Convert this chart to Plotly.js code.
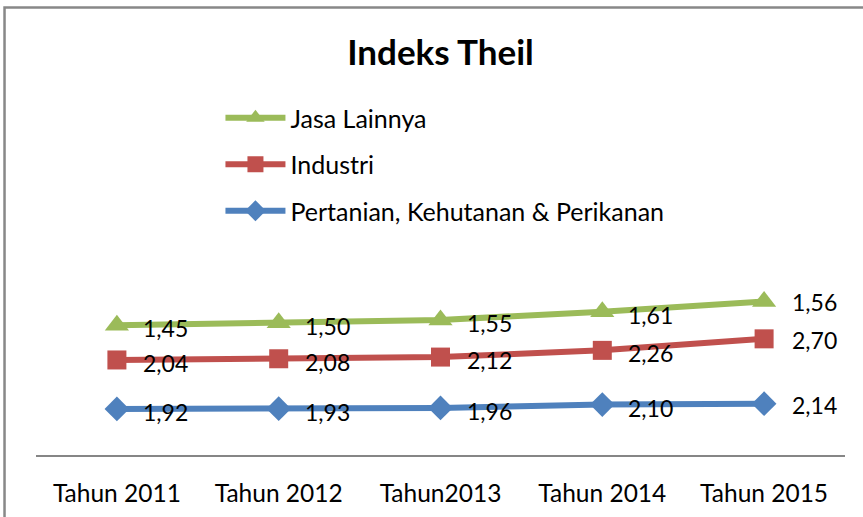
<!DOCTYPE html>
<html>
<head>
<meta charset="utf-8">
<script src="https://cdn.plot.ly/plotly-3.0.1.min.js"></script>
<style>html,body{margin:0;padding:0;background:#fff;}#chart{width:863px;height:517px;}</style>
</head>
<body>
<div id="chart"></div>
<script>
const categories = ["Tahun 2011", "Tahun 2012", "Tahun2013", "Tahun 2014", "Tahun 2015"];
const pertanian = [1.92, 1.93, 1.96, 2.10, 2.14];
const industri = [2.04, 2.08, 2.12, 2.26, 2.70];
const jasa = [1.45, 1.50, 1.55, 1.61, 1.56];
const seriesNames = ["Pertanian, Kehutanan & Perikanan", "Industri", "Jasa Lainnya"];

const FONT = "Lato, 'Noto Sans', sans-serif";
const series = [pertanian, industri, jasa];
const colors = ["#4F81BD", "#C0504D", "#9BBB59"];
const symbols = ["diamond", "square", "triangle-up"];
const sizes = [19, 19, 21];

const fmt = v => v.toFixed(2).replace(".", ",");

const traces = series.map((s, i) => ({
  x: categories,
  y: s,
  name: seriesNames[i],
  type: "scatter",
  mode: "lines+markers",
  stackgroup: "one",
  fill: "none",
  legendgroup: "g" + i,
  legendrank: 3 - i,
  line: {color: colors[i], width: 6},
  marker: {color: colors[i], symbol: symbols[i], size: sizes[i]},
  hoverinfo: "skip"
}));

// cumulative positions for labels (stacked line)
const annotations = [];
const cum = categories.map(() => 0);
series.forEach((s, i) => {
  s.forEach((v, j) => {
    cum[j] += v;
    annotations.push({
      x: categories[j], y: cum[j], xref: "x", yref: "y",
      text: fmt(v), showarrow: false,
      xanchor: "left", yanchor: "middle",
      xshift: j === 4 ? 26 : 24, yshift: j === 4 ? -1 : -3,
      font: {family: FONT, size: 23, color: "#000"}
    });
  });
});

const layout = {
  width: 863, height: 517,
  margin: {l: 36, r: 18, t: 215, b: 62},
  paper_bgcolor: "#fff", plot_bgcolor: "#fff",
  showlegend: true,
  title: {
    text: "<b>Indeks Theil</b>",
    font: {family: FONT, size: 35, color: "#000"},
    xref: "paper", x: 0.5, xanchor: "center",
    yref: "container", y: 1 - 53/517, yanchor: "middle"
  },
  legend: {
    x: 0.228, y: 1.50, xanchor: "left", yanchor: "top",
    traceorder: "grouped",
    tracegroupgap: 11,
    itemwidth: 60,
    font: {family: FONT, size: 25, color: "#000"},
    bgcolor: "rgba(0,0,0,0)"
  },
  xaxis: {
    type: "category",
    range: [-0.5, 4.5],
    showgrid: false, zeroline: false,
    showline: true, linecolor: "#868686", linewidth: 1.5,
    ticks: "", ticklabelstandoff: 16,
    tickfont: {family: FONT, size: 24.5, color: "#000"},
    fixedrange: true
  },
  yaxis: {
    range: [0, 10],
    showgrid: false, zeroline: false, showline: false,
    showticklabels: false, ticks: "",
    fixedrange: true
  },
  annotations: annotations,
  shapes: [{
    type: "rect", xref: "paper", yref: "paper",
    x0: -0.0389, x1: 1.06, y0: -0.4, y1: 1.8646,
    line: {color: "#888888", width: 2.5}
  }]
};

Plotly.newPlot("chart", traces, layout, {displayModeBar: false, staticPlot: true});
</script>
</body>
</html>
